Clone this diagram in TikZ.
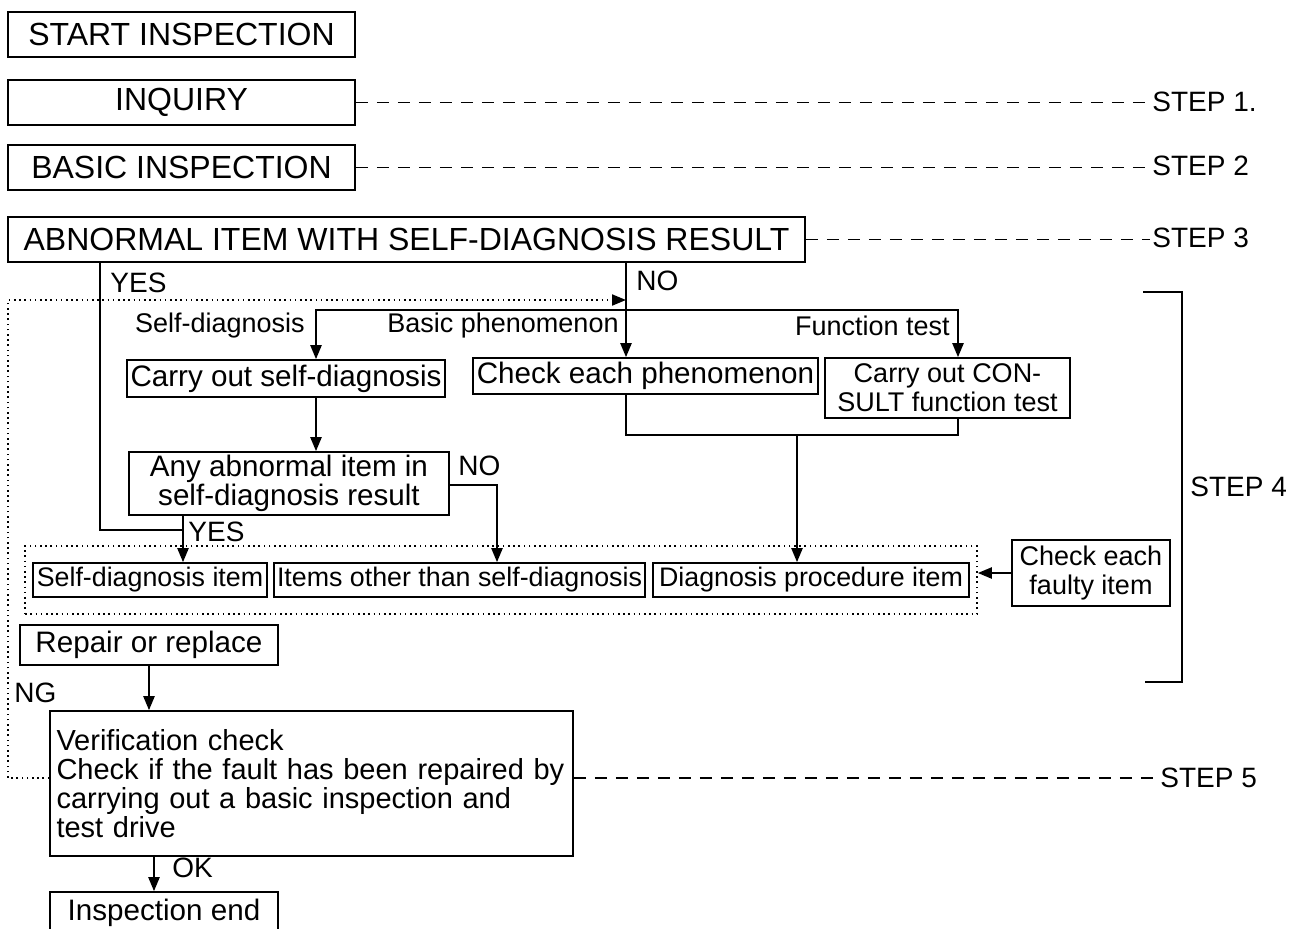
\documentclass[tikz,border=0pt]{standalone}
\usepackage{fontspec}
\setmainfont{Liberation Sans}
\usetikzlibrary{arrows.meta,calc,positioning,fit}
\newcommand\fbig{\fontsize{16}{18}\selectfont}
\newcommand\fnorm{\fontsize{14.8}{14.5}\selectfont}
\newcommand\fsmall{\fontsize{13.5}{14.5}\selectfont}
\tikzset{box/.style={draw,line width=0.8pt,align=center,inner sep=0pt,font=\fnorm},
  bigbox/.style={box,minimum width=173.5pt,minimum height=22.5pt,font=\fbig},
  item/.style={box,minimum height=17pt,font=\fontsize{13.4}{14}\selectfont},
  arr/.style={-{Triangle[length=7pt,width=5.5pt]},line width=1.1pt},
  wire/.style={line width=1.1pt},
  lead/.style={dash pattern=on 6pt off 4.5pt,line width=0.9pt},
  lbl/.style={font=\fontsize{14}{14}\selectfont,inner sep=1pt}}

\begin{document}
\begin{tikzpicture}[x=0.5pt,y=-0.5pt,
  back/.style={dash pattern=on 0.8pt off 1.8pt,line width=1pt},
  brk/.style={line width=1.3pt}]
\useasboundingbox (0,0) rectangle (1291,928);
\fill[white] (0,0) rectangle (1291,928);
\clip (0,0) rectangle (1291,928);
\node[bigbox] (start) at (181.5,34.5) {START INSPECTION};
\node[bigbox] (inq) at (181.5,102.5) {INQUIRY};
\node[bigbox] (basic) at (181.5,167.5) {BASIC INSPECTION};
\node[bigbox,minimum width=398.5pt] (abn) at (406.5,239.5) {ABNORMAL ITEM WITH SELF-DIAGNOSIS RESULT};
\node[lbl,anchor=west] (s1) at (1150,102) {STEP 1.};
\node[lbl,anchor=west] (s2) at (1150,166) {STEP 2};
\node[lbl,anchor=west] (s3) at (1150,238) {STEP 3};
\node[lbl,anchor=west] (s4) at (1188,487) {STEP 4};
\node[lbl,anchor=west] (s5) at (1158,778) {STEP 5};
\node[box,minimum width=159pt,minimum height=18.5pt] (carry) at (286,378.5) {Carry out self-diagnosis};
\node[box,minimum width=172.5pt,minimum height=18pt] (chk) at (645.5,376) {Check each phenomenon};
\node[box,font=\fsmall,minimum width=122.5pt,minimum height=30pt] (cons) at (947.5,388) {Carry out CON-\\SULT function test};
\node[box,minimum width=160pt,minimum height=31.5pt] (any) at (289,483.5) {Any abnormal item in\\self-diagnosis result};
\node[item,minimum width=117pt] (sdi) at (150,580) {Self-diagnosis item};
\node[item,minimum width=185.5pt] (oth) at (459.5,580) {Items other than self-diagnosis};
\node[item,minimum width=158pt] (dpi) at (811,580) {Diagnosis procedure item};
\node[draw,back,fit=(sdi)(oth)(dpi),inner xsep=3.5pt,inner ysep=8.2pt] (grp) {};
\node[box,font=\fsmall,minimum width=79pt,minimum height=33pt] (flt) at (1091,573) {Check each\\faulty item};
\node[box,minimum width=129pt,minimum height=20pt] (rep) at (149,645) {Repair or replace};
\node[box,align=left,font=\fontsize{14.5}{14.5}\selectfont,text width=255pt,inner xsep=3.25pt,minimum height=72.5pt] (ver) at (311.5,783.5) {Verification check\\Check if the fault has been repaired by\\carrying out a basic inspection and\\test drive};
\node[box,minimum width=114pt,minimum height=21pt] (fin) at (164,913) {Inspection end};
\node[lbl,anchor=west] (yes1) at (108,283) {YES};
\node[lbl,anchor=west] (no1) at (634,281) {NO};
\node[lbl,font=\fsmall,anchor=east] (lsd) at (307,326) {Self-diagnosis};
\node[lbl,font=\fsmall,anchor=east] (lbp) at (621,326) {Basic phenomenon};
\node[lbl,font=\fsmall,anchor=east] (lft) at (952,326) {Function test};
\node[lbl,anchor=west] (no2) at (456,466) {NO};
\node[lbl,anchor=west] (yes2) at (186,532) {YES};
\node[lbl,anchor=west] (ng) at (12,693) {NG};
\node[lbl,anchor=west] (ok) at (170,868) {OK};
\coordinate (yx) at (100,530);
\coordinate (jn) at (183,530);
\coordinate (nx) at (626,300);
\coordinate (fork) at (626,310);
\coordinate (sdx) at (316,310);
\coordinate (ftx) at (958,310);
\coordinate (nx2) at (497,485);
\coordinate (mrg) at (797,435);
\coordinate (lp) at (8,300);
\coordinate (okx) at (154,870);
\draw[lead] (inq.east) -- (inq.east -| s1.west);
\draw[lead] (basic.east) -- (basic.east -| s2.west);
\draw[lead] (abn.east) -- (abn.east -| s3.west);
\draw[lead] (ver.east |- s5) -- (s5.west);
\draw[wire] (abn.south -| yx) -- (yx) -- (jn);
\draw[arr] (any.south -| jn) -- (sdi.north -| jn);
\draw[arr] (abn.south -| nx) -- (chk.north -| nx);
\draw[arr] (fork) -- (sdx) -- (carry.north -| sdx);
\draw[arr] (fork) -- (ftx) -- (cons.north -| ftx);
\draw[arr] (carry.south -| sdx) -- (any.north -| sdx);
\draw[arr] (any.east |- nx2) -- (nx2) -- (oth.north -| nx2);
\draw[wire] (chk.south -| nx) -- (nx |- mrg) -- (ftx |- mrg) -- (cons.south -| ftx);
\draw[arr] (mrg) -- (dpi.north -| mrg);
\draw[arr] (flt.west) -- (flt.west -| grp.east);
\draw[arr] (rep.south) -- (ver.north -| rep.south);
\draw[arr] (ver.south -| okx) -- (fin.north -| okx);
\draw[back,-{Triangle[length=7pt,width=5.5pt]}] (ver.west |- s5) -| (lp) -- (nx);
\draw[brk] (1143,292) -| (1182,682) -- (1145,682);
\end{tikzpicture}
\end{document}
